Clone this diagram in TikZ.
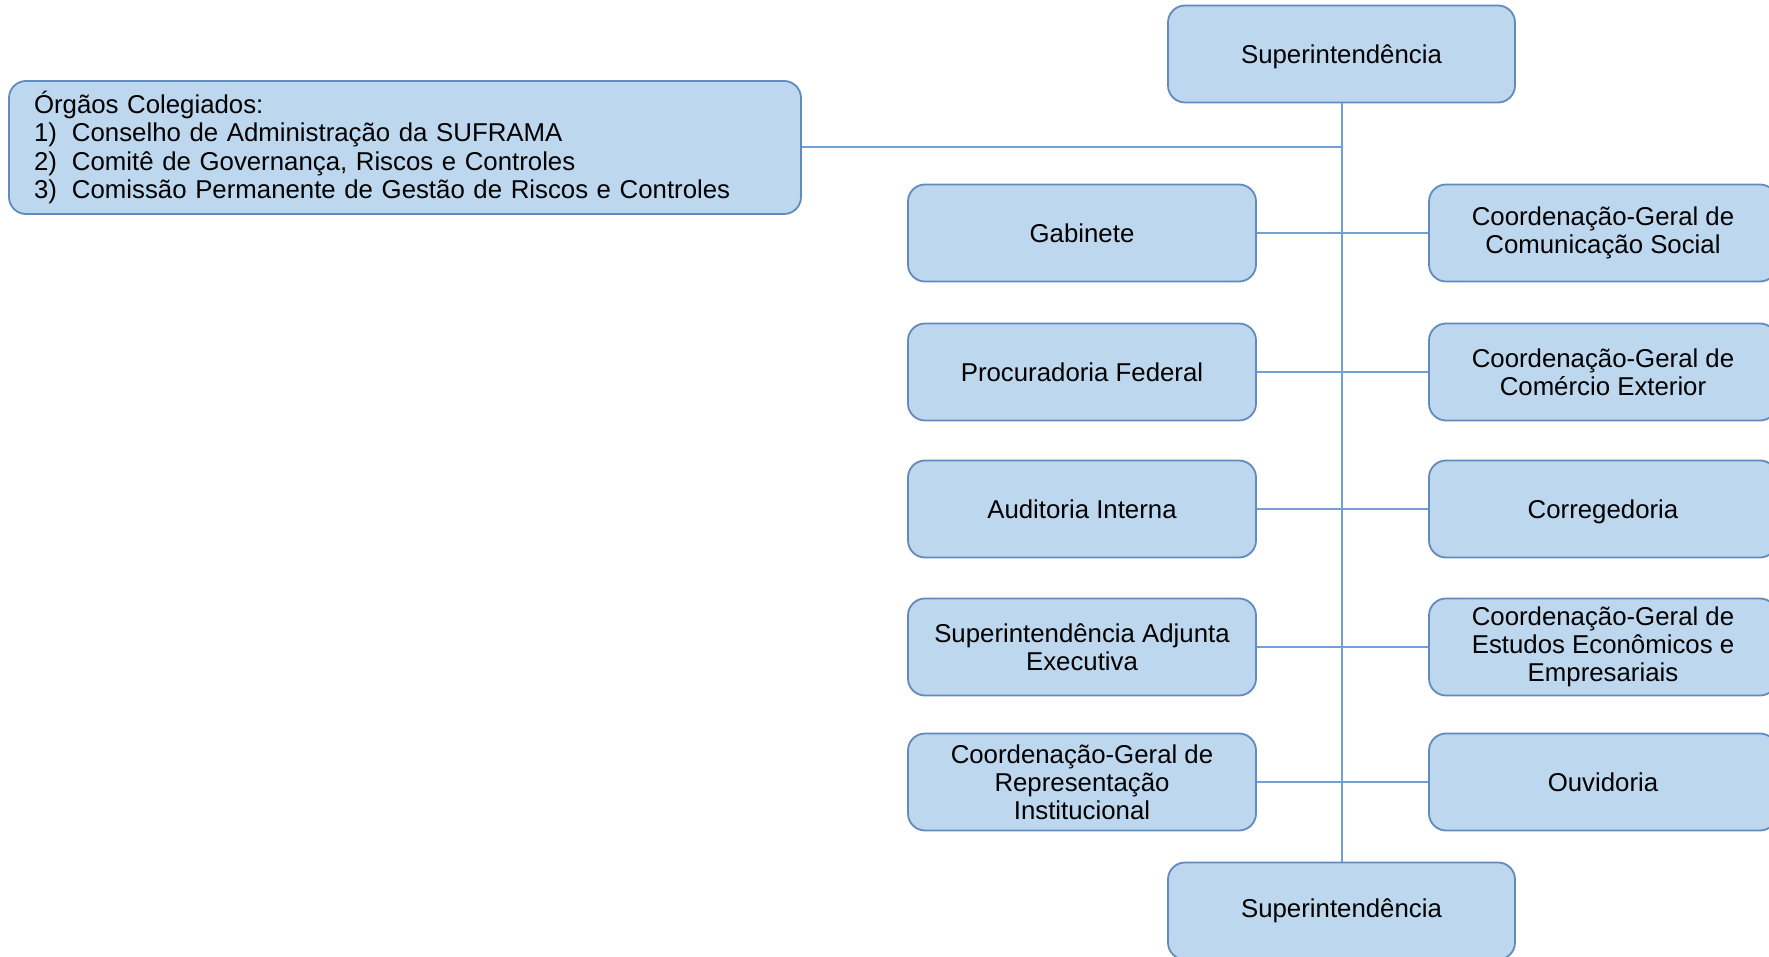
\documentclass[tikz,border=0pt]{standalone}
\usepackage{fontspec}
\setmainfont{Liberation Sans}
\definecolor{boxfill}{RGB}{189,215,238}
\definecolor{boxline}{RGB}{98,138,188}
\definecolor{conn}{RGB}{112,160,214}
\newcommand{\lowertext}[1]{\raisebox{-1.5pt}[\height][\depth]{#1}}
\begin{document}
\begin{tikzpicture}[x=0.5pt,y=-0.5pt,
  unit/.style={draw=boxline, fill=boxfill, line width=0.9pt, rounded corners=8.5pt,
    minimum width=174pt, minimum height=48.5pt, align=center, inner sep=2pt,
    font=\fontsize{12.9}{14.1}\selectfont},
  link/.style={draw=conn, line width=1pt}]
\useasboundingbox (0,0) rectangle (1769,957);
\clip (0,0) rectangle (1769,957);
\fill[white] (0,0) rectangle (1769,957);

\node[unit, minimum width=173.5pt] (sup) at (1341.5,54) {\lowertext{Superintendência}};
\node[unit, minimum width=173.5pt] (supb) at (1341.5,911) {Superintendência};

\node[unit, minimum width=396pt, minimum height=66.5pt, text width=371pt, inner xsep=12.5pt, align=left] (org) at (405,147.5)
  {Órgãos Colegiados:\\
   \makebox[19pt][l]{1)}Conselho de Administração da SUFRAMA\\
   \makebox[19pt][l]{2)}Comitê de Governança, Riscos e Controles\\
   \makebox[19pt][l]{3)}Comissão Permanente de Gestão de Riscos e Controles};

\node[unit] (gab) at (1082,233) {Gabinete};
\node[unit] (proc) at (1082,372) {Procuradoria Federal};
\node[unit] (aud) at (1082,509) {Auditoria Interna};
\node[unit] (sae) at (1082,647) {Superintendência Adjunta\\Executiva};
\node[unit] (cgri) at (1082,782) {Coordenação-Geral de\\Representação\\Institucional};

\node[unit] (cgcs) at (1603,233) {Coordenação-Geral de\\Comunicação Social};
\node[unit] (cgce) at (1603,372) {Coordenação-Geral de\\Comércio Exterior};
\node[unit] (corr) at (1603,509) {\lowertext{Corregedoria}};
\node[unit] (cgee) at (1603,647) {Coordenação-Geral de\\Estudos Econômicos e\\Empresariais};
\node[unit] (ouv) at (1603,782) {Ouvidoria};

\draw[link] (sup.south) -- (supb.north);
\draw[link] (org.east) -- (org.east -| sup.south);
\draw[link] (gab.east) -- (cgcs.west);
\draw[link] (proc.east) -- (cgce.west);
\draw[link] (aud.east) -- (corr.west);
\draw[link] (sae.east) -- (cgee.west);
\draw[link] (cgri.east) -- (ouv.west);
\end{tikzpicture}
\end{document}
